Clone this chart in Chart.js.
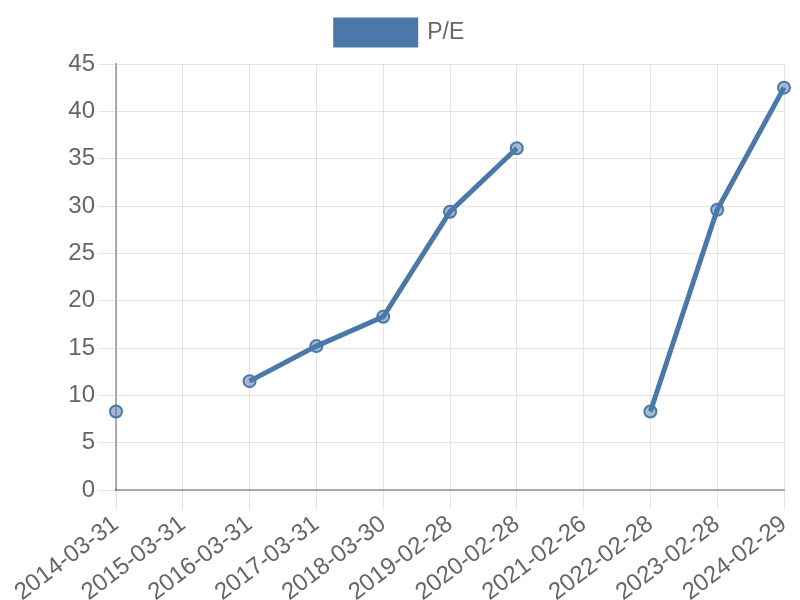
<!DOCTYPE html>
<html>
<head>
<meta charset="utf-8">
<script src="https://cdn.jsdelivr.net/npm/chart.js@4/dist/chart.umd.min.js"></script>
<style>
  body { margin: 0; background: #fff; }
  #wrap { width: 800px; height: 600px; }
</style>
</head>
<body>
<div id="wrap"><canvas id="chart-pe"></canvas></div>
<script>
var labels_pe = ["2014-03-31", "2015-03-31", "2016-03-31", "2017-03-31", "2018-03-30",
  "2019-02-28", "2020-02-28", "2021-02-26", "2022-02-28", "2023-02-28", "2024-02-29"];
var values_pe = [8.3, null, 11.5, 15.2, 18.3, 29.4, 36.1, null, 8.3, 29.6, 42.5];
var y_ticks = [0, 5, 10, 15, 20, 25, 30, 35, 40, 45];

Chart.defaults.font.family = "'Liberation Sans', Arial, sans-serif";
Chart.defaults.color = "#666";

// a bit more room under the legend
const legendGap = {
  id: "legendGap",
  beforeInit: function (chart) {
    const fit = chart.legend.fit;
    chart.legend.fit = function () {
      fit.bind(chart.legend)();
      this.height += 9;
    };
  },
};

const ctx = document.getElementById("chart-pe").getContext("2d");
const myChart = new Chart(ctx, {
  type: "line",
  data: {
    labels: labels_pe,
    datasets: [
      {
        label: "P/E",
        data: values_pe,
        borderColor: "rgba(74, 120, 168, 1)",
        backgroundColor: "rgba(74, 120, 168, 1)",
        pointBackgroundColor: "rgba(74, 120, 168, 0.5)",
        pointBorderColor: "rgba(74, 120, 168, 1)",
        pointBorderWidth: 2,
        pointRadius: 6,
        borderWidth: 5,
        tension: 0,
        spanGaps: false,
        fill: false,
      },
    ],
  },
  plugins: [legendGap],
  options: {
    responsive: true,
    maintainAspectRatio: false,
    animation: false,
    layout: { padding: { left: 0, right: 0, top: 10, bottom: 0 } },
    plugins: {
      legend: {
        display: true,
        labels: {
          font: { size: 23 },
          boxWidth: 80,
          boxHeight: 25,
          padding: 10,
        },
      },
      tooltip: { enabled: false },
    },
    scales: {
      x: {
        afterFit: function (axis) {
          axis.height = 110;
          axis.paddingRight = 16;
        },
        grid: { color: "rgba(0,0,0,0.1)", tickLength: 20 },
        border: { color: "rgba(0,0,0,0.3)", width: 2 },
        ticks: {
          font: { size: 24 },
          maxRotation: 37,
          minRotation: 37,
          autoSkip: false,
          padding: 0,
        },
      },
      y: {
        min: 0,
        max: 45,
        afterBuildTicks: function (axis) {
          axis.ticks = y_ticks.map(function (v) { return { value: v }; });
        },
        afterFit: function (axis) {
          axis.width = 116;
        },
        grid: { color: "rgba(0,0,0,0.1)", tickLength: 18 },
        border: { color: "rgba(0,0,0,0.3)", width: 2 },
        ticks: { font: { size: 24 }, padding: 3 },
      },
    },
  },
});
</script>
</body>
</html>
